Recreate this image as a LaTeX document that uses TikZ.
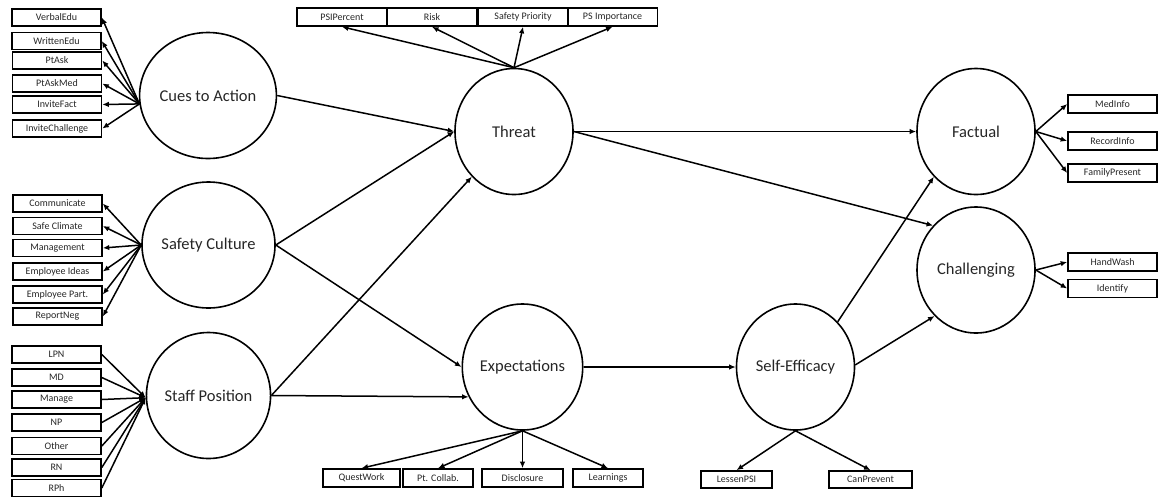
\documentclass[tikz,border=0pt]{standalone}
\usepackage{fontspec}
\setmainfont{Carlito}
\usetikzlibrary{shapes.geometric,arrows.meta}
\definecolor{txt}{HTML}{262626}
\begin{document}
\begin{tikzpicture}[x=1pt,y=-1pt,
  lat/.style={ellipse,draw,line width=1.6pt,minimum width=118pt,minimum height=126pt,inner sep=0pt,text=txt,font=\fontsize{16.5}{18}\selectfont},
  ind/.style={rectangle,draw,line width=1.6pt,minimum height=17pt,minimum width=89pt,inner sep=0pt,text=txt,font=\fontsize{10}{12}\selectfont},
  arr/.style={line width=1.5pt,-{Latex[length=6.5pt,width=5.5pt]}}]
\useasboundingbox (0,0) rectangle (1158,499);
% latent variables
\node[lat] (cues) at (208,95.5) {Cues to Action};
\node[lat] (sc) at (208.5,245) {Safety Culture};
\node[lat] (staff) at (208.5,395.5) {Staff Position};
\node[lat] (threat) at (514,131.5) {Threat};
\node[lat] (exp) at (522.5,367) {Expectations};
\node[lat] (self) at (795.5,367) {Self-Efficacy};
\node[lat] (fact) at (976,131.5) {Factual};
\node[lat] (chal) at (976,270) {Challenging};
% cues indicators
\node[ind] (c1) at (56.5,17.5) {VerbalEdu};
\node[ind] (c2) at (56.5,41) {WrittenEdu};
\node[ind] (c3) at (57,60.5) {PtAsk};
\node[ind] (c4) at (57,83.5) {PtAskMed};
\node[ind] (c5) at (57,104.5) {InviteFact};
\node[ind] (c6) at (57,128.5) {InviteChallenge};
\foreach \n in {c1,c2,c3,c4,c5,c6} \draw[arr] (cues.187) -- (\n.east);
% safety culture indicators
\node[ind] (s1) at (57.5,203.5) {Communicate};
\node[ind] (s2) at (57.5,226) {Safe Climate};
\node[ind] (s3) at (57.5,248) {Management};
\node[ind] (s4) at (57.5,271.5) {Employee Ideas};
\node[ind] (s5) at (57.5,294.5) {Employee Part.};
\node[ind] (s6) at (57.5,316.5) {ReportNeg};
\foreach \n in {s1,s2,s3,s4,s5,s6} \draw[arr] (sc.west) -- (\n.east);
% staff position indicators
\node[ind] (p1) at (56.5,354.5) {LPN};
\node[ind] (p2) at (56.5,377.5) {MD};
\node[ind] (p3) at (56.5,399.5) {Manage};
\node[ind] (p4) at (56.5,422.5) {NP};
\node[ind] (p5) at (56.5,446) {Other};
\node[ind] (p6) at (56.5,467.5) {RN};
\node[ind] (p7) at (56.5,488) {RPh};
\foreach \n in {p1,p2,p3,p4,p5,p6,p7} \draw[arr] (\n.east) -- (staff.182);
% threat indicators
\node[ind,minimum width=90pt,minimum height=18pt] (t1) at (342,17) {PSIPercent};
\node[ind,minimum width=90pt,minimum height=18pt] (t2) at (432,17) {Risk};
\node[ind,minimum width=90pt,minimum height=18pt] (t3) at (523,17) {Safety Priority};
\node[ind,minimum width=90pt,minimum height=18pt] (t4) at (612.5,17) {PS Importance};
\foreach \n in {t1,t2,t3,t4} \draw[arr] (threat.north) -- (\n.south);
% expectations indicators
\node[ind,minimum width=77pt,minimum height=18pt] (e1) at (361.5,478) {QuestWork};
\node[ind,minimum width=70pt,minimum height=18pt] (e2) at (438,478) {Pt. Collab.};
\node[ind,minimum width=81pt,minimum height=18pt] (e3) at (522.5,478) {Disclosure};
\node[ind,minimum width=70pt,minimum height=18pt] (e4) at (608,478) {Learnings};
\foreach \n in {e1,e2,e3,e4} \draw[arr] (exp.south) -- (\n.north);
% self-efficacy indicators
\node[ind,minimum width=71pt] (f1) at (736.5,479.5) {LessenPSI};
\node[ind,minimum width=83pt] (f2) at (870.5,479.5) {CanPrevent};
\foreach \n in {f1,f2} \draw[arr] (self.south) -- (\n.north);
% factual indicators
\node[ind,minimum height=18pt] (a1) at (1112.5,104) {MedInfo};
\node[ind,minimum height=18pt] (a2) at (1112.5,141) {RecordInfo};
\node[ind,minimum height=18pt] (a3) at (1112.5,173) {FamilyPresent};
\foreach \n in {a1,a2,a3} \draw[arr] (fact.east) -- (\n.west);
% challenging indicators
\node[ind,minimum height=18pt] (h1) at (1112.5,262) {HandWash};
\node[ind,minimum height=18pt] (h2) at (1112.5,288.5) {Identify};
\foreach \n in {h1,h2} \draw[arr] (chal.east) -- (\n.west);
% structural paths
\draw[arr] (cues.east) -- (threat.west);
\draw[arr] (sc.east) -- (threat.west);
\draw[arr] (sc.east) -- (exp.west);
\draw[arr] (staff.east) -- (threat.227);
\draw[arr] (staff.east) -- (exp.209);
\draw[arr] (threat.east) -- (fact.west);
\draw[arr] (threat.east) -- (chal.134);
\draw[arr] (exp.east) -- (self.west);
\draw[arr] (self.47) -- (fact.227);
\draw[arr] (self.2) -- (chal.228);
\end{tikzpicture}
\end{document}
